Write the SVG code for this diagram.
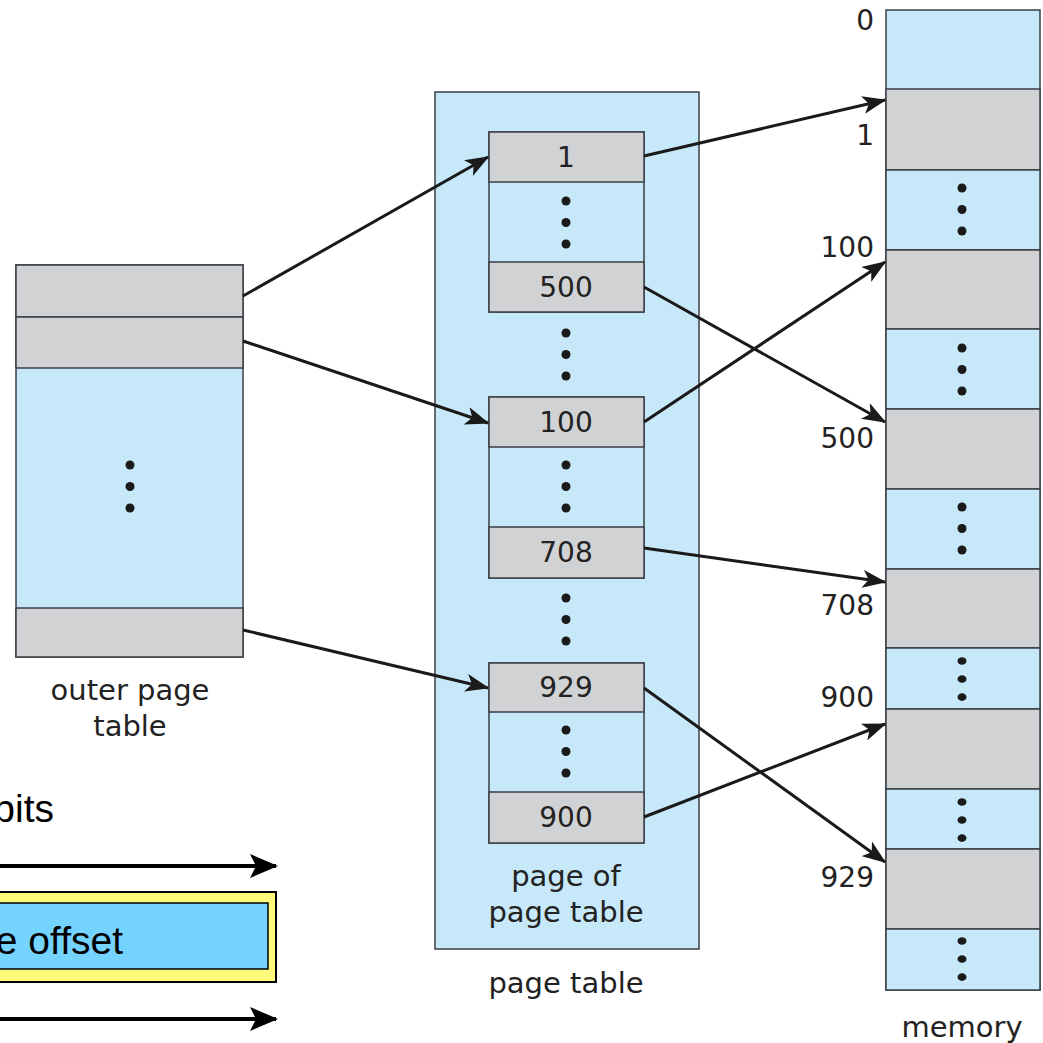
<svg xmlns="http://www.w3.org/2000/svg" width="1043" height="1043" viewBox="0 0 1043 1043">
<style>
.b{fill:#c6e8f8;stroke:#3a3f45;stroke-width:1.5}
.g{fill:#d1d2d4;stroke:#3a3f45;stroke-width:1.5}
.t{font-family:"DejaVu Sans",sans-serif;font-size:29px;fill:#222;text-anchor:middle}
.n{font-family:"DejaVu Sans",sans-serif;font-size:28px;fill:#222;text-anchor:middle}
.l{font-family:"DejaVu Sans",sans-serif;font-size:28px;fill:#222;text-anchor:end}
.big{font-family:"Liberation Sans",Arial,sans-serif;font-size:39px;fill:#000}
.c{stroke:#1a1a1a;stroke-width:3;fill:none;marker-end:url(#ah)}
.k{stroke:#000;stroke-width:4;fill:none;marker-end:url(#bh)}
</style>
<defs>
<marker id="ah" markerWidth="8" markerHeight="6" refX="7.5" refY="3" orient="auto" markerUnits="strokeWidth"><path d="M0,0 L8,3 L0,6 L2,3 Z" fill="#1a1a1a"/></marker>
<marker id="bh" markerWidth="7" markerHeight="6" refX="6.5" refY="3" orient="auto" markerUnits="strokeWidth"><path d="M0,0 L7,3 L0,6 L1.5,3 Z" fill="#000"/></marker>
<g id="dots"><circle cx="0" cy="0" r="4.5" fill="#1a1a1a"/><circle cx="0" cy="21.5" r="4.5" fill="#1a1a1a"/><circle cx="0" cy="43" r="4.5" fill="#1a1a1a"/></g>
</defs>
<rect width="1043" height="1043" fill="#fff"/>

<g id="outer-page-table">
<rect class="b" x="16" y="265" width="227" height="392"/>
<rect class="g" x="16" y="265" width="227" height="52"/>
<rect class="g" x="16" y="317" width="227" height="51"/>
<rect class="g" x="16" y="608" width="227" height="49"/>
<use href="#dots" x="130" y="465"/>
<text class="t" x="130" y="700">outer page</text>
<text class="t" x="130" y="736">table</text>
</g>

<g id="page-table">
<rect class="b" x="435" y="92" width="264" height="857"/>
<use href="#dots" x="566" y="333"/>
<use href="#dots" x="566" y="598"/>
<text class="t" x="566" y="886">page of</text>
<text class="t" x="566" y="922">page table</text>
<text class="t" x="566" y="993">page table</text>
</g>

<g id="page-1">
<rect class="b" x="489" y="132" width="155" height="180"/>
<rect class="g" x="489" y="132" width="155" height="50"/>
<rect class="g" x="489" y="262" width="155" height="50"/>
<text class="n" x="566" y="167">1</text>
<use href="#dots" x="566" y="201"/>
<text class="n" x="566" y="297">500</text>
</g>

<g id="page-2">
<rect class="b" x="489" y="397" width="155" height="181"/>
<rect class="g" x="489" y="397" width="155" height="50"/>
<rect class="g" x="489" y="527" width="155" height="51"/>
<text class="n" x="566" y="432">100</text>
<use href="#dots" x="566" y="465"/>
<text class="n" x="566" y="562">708</text>
</g>

<g id="page-3">
<rect class="b" x="489" y="663" width="155" height="180"/>
<rect class="g" x="489" y="663" width="155" height="49"/>
<rect class="g" x="489" y="792" width="155" height="51"/>
<text class="n" x="566" y="697">929</text>
<use href="#dots" x="566" y="730"/>
<text class="n" x="566" y="827">900</text>
</g>

<g id="memory">
<rect class="b" x="886" y="10" width="154" height="980"/>
<rect class="g" x="886" y="89" width="154" height="81"/>
<rect class="b" x="886" y="170" width="154" height="80"/>
<rect class="g" x="886" y="250" width="154" height="79"/>
<rect class="b" x="886" y="329" width="154" height="80"/>
<rect class="g" x="886" y="409" width="154" height="80"/>
<rect class="b" x="886" y="489" width="154" height="80"/>
<rect class="g" x="886" y="569" width="154" height="79"/>
<rect class="b" x="886" y="648" width="154" height="61"/>
<rect class="g" x="886" y="709" width="154" height="80"/>
<rect class="b" x="886" y="789" width="154" height="60"/>
<rect class="g" x="886" y="849" width="154" height="80"/>
<rect class="b" x="886" y="929" width="154" height="61"/>
<use href="#dots" x="962" y="188"/>
<use href="#dots" x="962" y="348"/>
<use href="#dots" x="962" y="507"/>
<g transform="translate(962,661) scale(1,0.84)"><use href="#dots"/></g>
<g transform="translate(962,802) scale(1,0.84)"><use href="#dots"/></g>
<g transform="translate(962,941) scale(1,0.84)"><use href="#dots"/></g>
<text class="l" x="874" y="30">0</text>
<text class="l" x="874" y="145">1</text>
<text class="l" x="874" y="257">100</text>
<text class="l" x="874" y="448">500</text>
<text class="l" x="874" y="615">708</text>
<text class="l" x="874" y="707">900</text>
<text class="l" x="874" y="887">929</text>
<text class="t" x="962" y="1037">memory</text>
</g>

<g id="address-format">
<text class="big" x="54" y="822" text-anchor="end">bits</text>
<line class="k" x1="-10" y1="866" x2="276" y2="866"/>
<rect x="-10" y="892" width="286" height="90" fill="#fff97a" stroke="#000" stroke-width="2"/>
<rect x="-10" y="903" width="278" height="66" fill="#75d4ff" stroke="#000" stroke-width="1.5"/>
<text class="big" x="123" y="954" text-anchor="end">e offset</text>
<line class="k" x1="-10" y1="1019" x2="276" y2="1019"/>
</g>

<g id="connectors">
<line class="c" x1="243" y1="296" x2="488" y2="157"/>
<line class="c" x1="243" y1="341" x2="488" y2="423"/>
<line class="c" x1="243" y1="630" x2="488" y2="688"/>
<line class="c" x1="644" y1="156" x2="885" y2="100"/>
<line class="c" x1="644" y1="287" x2="885" y2="422"/>
<line class="c" x1="644" y1="422" x2="885" y2="262"/>
<line class="c" x1="644" y1="548" x2="885" y2="582"/>
<line class="c" x1="644" y1="688" x2="885" y2="862"/>
<line class="c" x1="644" y1="817" x2="885" y2="724"/>
</g>
</svg>
